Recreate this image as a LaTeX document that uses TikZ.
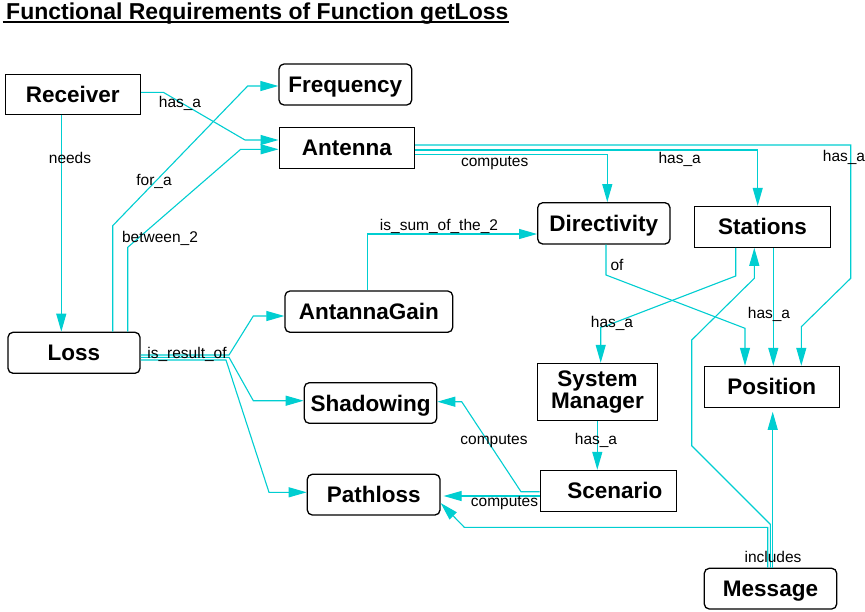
\documentclass[tikz,border=0pt]{standalone}
\usepackage{fontspec}
\setmainfont{Liberation Sans}
\usetikzlibrary{arrows.meta}
\definecolor{cyanline}{RGB}{0,206,209}
\begin{document}
\begin{tikzpicture}[x=1pt,y=-1pt,
  nodebase/.style={draw=black, inner sep=0pt,
    font=\bfseries\fontsize{22.5}{27}\selectfont, text height=16.1pt, text depth=0pt},
  sq/.style={nodebase, rectangle, line width=1pt},
  rnd/.style={nodebase, rectangle, line width=1.3pt, rounded corners=5pt},
  conn/.style={draw=cyanline, line width=1.1pt, -{Triangle[length=18pt,width=10pt]}},
  lab/.style={inner sep=0pt, font=\fontsize{15.5}{18}\selectfont, text height=11.5pt, text depth=3.3pt}
]
\useasboundingbox (0,0) rectangle (865,611);
\fill[white] (0,0) rectangle (865,611);

% title
\node[inner sep=0pt, anchor=base west, font=\bfseries\fontsize{23}{27}\selectfont] (title) at (6,19.3) {Functional Requirements of Function getLoss};
\draw[line width=2.6pt] ([xshift=-3.3pt,yshift=-2.7pt]title.base west) -- ([yshift=-2.7pt]title.base east);

% nodes
\node[sq,  minimum width=135.7pt, minimum height=40pt]   (receiver)    at (72.85,94)    {Receiver};
\node[rnd, minimum width=132.7pt, minimum height=41pt]   (frequency)   at (345.35,84.5) {Frequency};
\node[sq,  minimum width=135.7pt, minimum height=41pt]   (antenna)     at (346.85,147.5){Antenna};
\node[rnd, minimum width=132.3pt, minimum height=41.3pt] (directivity) at (603.85,223.35){Directivity};
\node[sq,  minimum width=136.4pt, minimum height=41pt]   (stations)    at (762.5,226.8) {Stations};
\node[rnd, minimum width=132pt,   minimum height=41pt]   (loss)        at (74,352.8)    {Loss};
\node[rnd, minimum width=167.7pt, minimum height=41.3pt] (antannagain) at (368.85,311.65){AntannaGain};
\node[rnd, minimum width=132.4pt, minimum height=40.6pt] (shadowing)   at (370.5,403)   {Shadowing};
\node[rnd, minimum width=132.7pt, minimum height=40.7pt] (pathloss)    at (373.65,494.65){Pathloss};
\node[sq,  minimum width=120.4pt, minimum height=57pt, align=center, text height=, text depth=,
      font=\bfseries\fontsize{22.5}{21.7}\selectfont]    (sysman)      at (597.5,391.8) {System\\Manager};
\node[sq,  minimum width=136.7pt, minimum height=40.7pt, text width=108pt, align=right] (scenario) at (608.35,490.65){Scenario};
\node[sq,  minimum width=135.3pt, minimum height=41pt]   (position)    at (771.65,386.8){Position};
\node[rnd, minimum width=132.4pt, minimum height=40.7pt] (message)     at (770.5,588.65){Message};

% connectors
\draw[conn] (receiver.east |- 0,92.3) -- (163.3,92.3) -- (245,140) -- (antenna.west |- 0,140);
\draw[conn] (loss.north -| 112.7,0) -- (112.7,225.7) -- (247.7,86) -- (frequency.west |- 0,86);
\draw[conn] (loss.north -| 127.7,0) -- (127.7,247.3) -- (240.7,149.3) -- (antenna.west |- 0,149.3);
\draw[conn] (receiver.south -| 61.3,0) -- (loss.north -| 61.3,0);
\draw[conn] (antenna.east |- 0,154.3) -- (607.3,154.3) -- (directivity.north -| 607.3,0);
\draw[conn] (antenna.east |- 0,150) -- (757.7,150) -- (stations.north -| 757.7,0);
\draw[conn] (antenna.east |- 0,145) -- (850.7,145) -- (850.7,278.3) -- (801.3,326.7) -- (position.north -| 801.3,0);
\draw[conn] (antannagain.north -| 367.3,0) -- (367.3,234) -- (directivity.west |- 0,234);
\draw[conn] (directivity.south -| 606,0) -- (606,275) -- (745,328.3) -- (position.north -| 745,0);
\draw[conn] (stations.south -| 735.7,0) -- (735.7,276) -- (608.3,325) -- (600.7,327.3) -- (sysman.north -| 600.7,0);
\draw[conn] (stations.south -| 773.3,0) -- (position.north -| 773.3,0);
\draw[conn] (message.north -| 770.3,0) -- (770.3,524.3) -- (691.7,445.7) -- (691.7,340) -- (754.3,278.3) -- (stations.south -| 754.3,0);
\draw[conn] (message.north -| 767.7,0) -- (767.7,527.3) -- (464.3,527.3) -- (pathloss.east |- 0,503);
\draw[conn, shorten >=4pt] (message.north -| 772.7,0) -- (position.south -| 772.7,0);
\draw[conn] (scenario.west |- 0,491.7) -- (521,491.7) -- (461.7,401.7) -- (shadowing.east |- 0,401.7);
\draw[conn, shorten >=3pt] (scenario.west |- 0,496) -- (pathloss.east |- 0,496);
\draw[conn] (sysman.south -| 597.3,0) -- (scenario.north -| 597.3,0);
\draw[conn] (loss.east |- 0,355) -- (229,355) -- (253.3,316) -- (antannagain.west |- 0,316);
\draw[conn] (loss.east |- 0,357.3) -- (229,357.3) -- (253.3,400.7) -- (shadowing.west |- 0,400.7);
\draw[conn] (loss.east |- 0,360) -- (226,360) -- (269,492.3) -- (pathloss.west |- 0,492.3);

% labels
\node[lab] (l1)  at (180,103)   {has\_a};
\node[lab] (l2)  at (70,159)    {needs};
\node[lab] (l3)  at (154,181)   {for\_a};
\node[lab] (l4)  at (160,238)   {between\_2};
\node[lab] (l5)  at (494.7,162) {computes};
\node[lab] (l6)  at (679.7,159) {has\_a};
\node[lab] (l7)  at (844,157)   {has\_a};
\node[lab] (l8)  at (439,226)   {is\_sum\_of\_the\_2};
\node[lab] (l9)  at (617,266)   {of};
\node[lab] (l10) at (612,323)   {has\_a};
\node[lab] (l11) at (769,314)   {has\_a};
\node[lab] (l12) at (187,354)   {is\_result\_of};
\node[lab] (l13) at (494,440)   {computes};
\node[lab] (l14) at (596,440)   {has\_a};
\node[lab] (l15) at (504.5,502) {computes};
\node[lab] (l16) at (773,558.5) {includes};
\end{tikzpicture}
\end{document}
